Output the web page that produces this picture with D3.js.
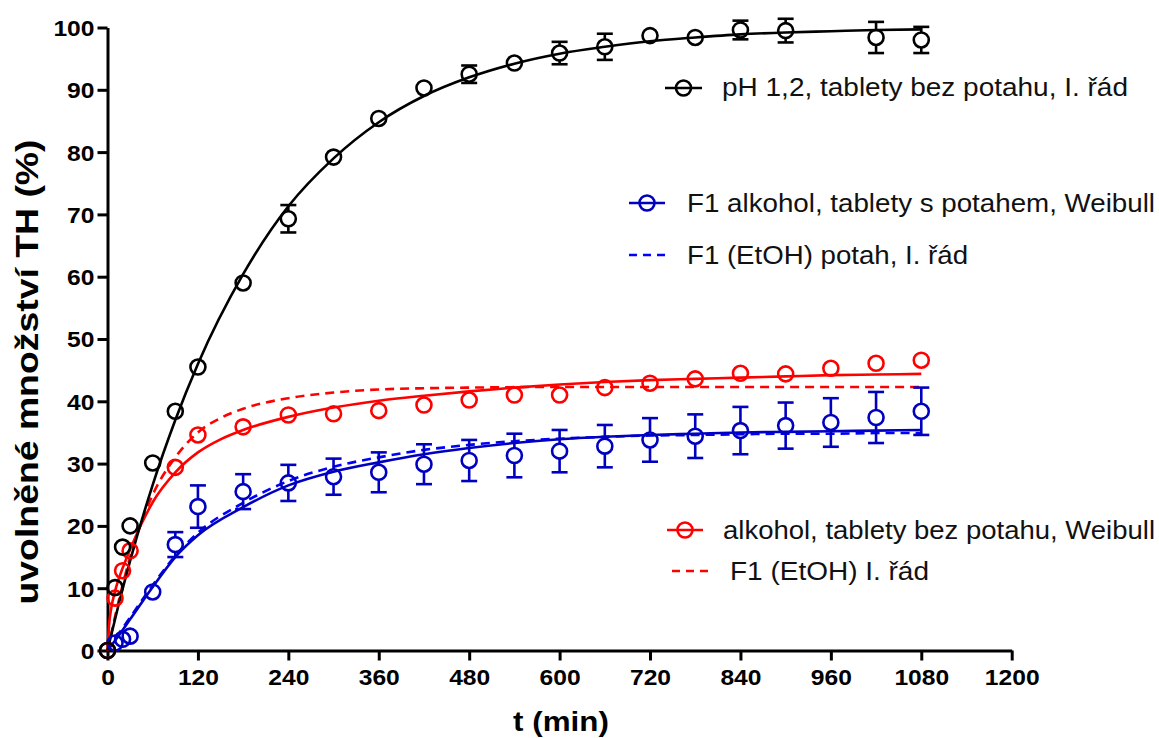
<!DOCTYPE html>
<html>
<head>
<meta charset="utf-8">
<script src="https://cdn.jsdelivr.net/npm/d3@7/dist/d3.min.js"></script>
<style>
  html, body { margin: 0; padding: 0; background: #fff; }
  svg { display: block; }
  text { font-family: "Liberation Sans", Arial, Helvetica, sans-serif; }
</style>
</head>
<body>
<svg id="chart" width="1159" height="738"></svg>
<script>
// ---------- data ----------
const xTicks = [0, 120, 240, 360, 480, 600, 720, 840, 960, 1080, 1200];
const yTicks = [0, 10, 20, 30, 40, 50, 60, 70, 80, 90, 100];

// black: pH 1,2, tablety bez potahu
const blackT   = [0, 10, 20, 30, 60, 90, 120, 180, 240, 300, 360, 420, 480, 540, 600, 660, 720, 780, 840, 900, 1020, 1080];
const blackY   = [0, 10.1, 16.6, 20.0, 30.1, 38.4, 45.5, 59.0, 69.3, 79.2, 85.4, 90.3, 92.5, 94.3, 95.9, 96.9, 98.7, 98.4, 99.6, 99.5, 98.4, 98.0];
const blackErr = [0, 0.3, 0.3, 0.3, 0.3, 0.4, 0.4, 0.5, 2.2, 0.5, 0.5, 0.6, 1.4, 0.8, 1.8, 2.1, 0.5, 0.5, 1.5, 1.9, 2.5, 2.1];
const blackFitT = [0, 15, 30, 60, 90, 120, 180, 240, 300, 360, 420, 480, 540, 600, 660, 720, 780, 840, 900, 960, 1020, 1080];
const blackFitY = [0, 7.5, 14.4, 26.6, 37.0, 46.0, 60.4, 71.3, 79.0, 84.8, 89.0, 92.0, 94.2, 95.8, 96.9, 97.8, 98.4, 98.9, 99.2, 99.4, 99.6, 99.7];

// red: alkohol, tablety bez potahu
const redT   = [0, 10, 20, 30, 90, 120, 180, 240, 300, 360, 420, 480, 540, 600, 660, 720, 780, 840, 900, 960, 1020, 1080];
const redY   = [0, 8.4, 12.8, 16.0, 29.4, 34.6, 35.9, 37.8, 38.0, 38.5, 39.4, 40.2, 41.0, 41.0, 42.2, 42.9, 43.6, 44.5, 44.4, 45.3, 46.1, 46.6];
const redErr = [0, 0.4, 0.5, 0.5, 0.6, 0.6, 0.6, 0.6, 0.6, 0.6, 0.6, 0.7, 0.7, 0.7, 0.7, 0.7, 0.7, 0.7, 0.7, 0.7, 0.7, 0.7];
const redWeibullT = [0, 2, 5, 10, 20, 30, 45, 60, 90, 120, 150, 180, 240, 300, 360, 420, 480, 540, 600, 660, 720, 780, 840, 900, 960, 1020, 1080];
const redWeibullY = [0, 4.0, 6.8, 9.5, 13.2, 16.2, 20.3, 23.8, 28.6, 31.8, 33.9, 35.4, 37.5, 39.0, 40.1, 40.9, 41.6, 42.2, 42.7, 43.1, 43.4, 43.6, 43.8, 44.0, 44.2, 44.3, 44.4];
const redOrderT = [0, 15, 30, 60, 90, 120, 150, 180, 240, 300, 360, 420, 480, 600, 720, 840, 960, 1080];
const redOrderY = [0, 8.0, 15.0, 25.0, 31.0, 35.0, 37.3, 38.8, 40.5, 41.4, 41.9, 42.1, 42.2, 42.3, 42.3, 42.3, 42.3, 42.3];

// blue: F1 alkohol, tablety s potahem
const blueT   = [0, 10, 20, 30, 60, 90, 120, 180, 240, 300, 360, 420, 480, 540, 600, 660, 720, 780, 840, 900, 960, 1020, 1080];
const blueY   = [0, 1.2, 1.8, 2.3, 9.4, 17.0, 23.1, 25.5, 26.9, 27.9, 28.6, 29.9, 30.5, 31.3, 32.0, 32.8, 33.8, 34.4, 35.3, 36.1, 36.6, 37.4, 38.4];
const blueErr = [0, 0.3, 0.3, 0.4, 0.6, 2.0, 3.4, 2.8, 2.9, 2.9, 3.2, 3.2, 3.3, 3.5, 3.4, 3.4, 3.5, 3.5, 3.8, 3.7, 3.9, 4.1, 3.8];
const blueWeibullT = [0, 15, 30, 60, 90, 120, 180, 240, 300, 360, 420, 480, 540, 600, 660, 720, 780, 840, 900, 960, 1020, 1080];
const blueWeibullY = [0, 2.4, 5.0, 10.2, 15.0, 18.5, 23.0, 26.5, 28.7, 30.2, 31.5, 32.5, 33.3, 33.9, 34.3, 34.6, 34.8, 35.0, 35.1, 35.2, 35.3, 35.4];
const blueOrderT = [0, 15, 30, 60, 90, 120, 180, 240, 300, 360, 420, 480, 540, 600, 660, 720, 780, 840, 900, 960, 1020, 1080];
const blueOrderY = [0, 2.7, 5.3, 10.5, 15.2, 18.9, 23.7, 27.2, 29.5, 31.0, 32.2, 33.0, 33.6, 34.0, 34.3, 34.5, 34.6, 34.7, 34.8, 34.8, 34.9, 34.9];

const legendLabels = [
  "pH 1,2, tablety bez potahu, I. řád",
  "F1 alkohol, tablety s potahem, Weibull",
  "F1 (EtOH) potah, I. řád",
  "alkohol, tablety bez potahu, Weibull",
  "F1 (EtOH) I. řád"
];
const xTitle = "t (min)";
const yTitle = "uvolněné množství TH (%)";

// ---------- drawing ----------
const BLACK = "#000000", RED = "#ff0000", BLUE = "#0000c0", BLUE2 = "#0000ff";
const STRETCH = 1.12;
const svg = d3.select("#chart");

const x = d3.scaleLinear().domain([0, 1200]).range([107.5, 1011.7]);
const y = d3.scaleLinear().domain([0, 100]).range([650.5, 27.5]);

// axes
const xAxis = d3.axisBottom(x).tickValues(xTicks).tickFormat(d3.format("d")).tickSize(10).tickSizeOuter(0).tickPadding(8);
const yAxis = d3.axisLeft(y).tickValues(yTicks).tickFormat(d3.format("d")).tickSize(10).tickSizeOuter(0).tickPadding(4);

const gx = svg.append("g").attr("transform", `translate(0,${y(0)})`).call(xAxis);
const gy = svg.append("g").attr("transform", `translate(${x(0)},0)`).call(yAxis);
[gx, gy].forEach(g => {
  g.select(".domain").attr("stroke", "#000").attr("stroke-width", 3);
  g.selectAll(".tick line").attr("stroke", "#000").attr("stroke-width", 3);
  g.selectAll(".tick text")
    .attr("fill", "#000")
    .style("font-family", '"Liberation Sans", Arial, sans-serif')
    .style("font-weight", "bold")
    .style("font-size", "22px");
});
gx.selectAll(".tick text").attr("transform", `scale(${STRETCH},1)`).attr("y", 19).attr("dy", "0.71em");
gy.selectAll(".tick text").attr("transform", `scale(${STRETCH},1)`).attr("x", -13 / STRETCH).attr("dy", "0.36em");

// axis titles
svg.append("text")
  .attr("transform", `translate(561,731) scale(${STRETCH},1)`)
  .attr("text-anchor", "middle")
  .style("font-weight", "bold").style("font-size", "28px")
  .text(xTitle);

svg.append("text")
  .attr("transform", `translate(38,372) rotate(-90)`)
  .attr("text-anchor", "middle")
  .attr("textLength", 465).attr("lengthAdjust", "spacingAndGlyphs")
  .style("font-weight", "bold").style("font-size", "31px")
  .text(yTitle);

const lineGen = d3.line().x(d => x(d[0])).y(d => y(d[1])).curve(d3.curveMonotoneX);
function curve(ts, vs, color, dashed) {
  svg.append("path")
    .datum(d3.zip(ts, vs))
    .attr("d", lineGen)
    .attr("fill", "none")
    .attr("stroke", color)
    .attr("stroke-width", 2.6)
    .attr("stroke-dasharray", dashed ? "9,6" : null);
}
function markers(ts, vs, es, color) {
  const data = d3.zip(ts, vs, es);
  const g = svg.append("g").attr("stroke", color).attr("stroke-width", 2.6).attr("fill", "none");
  const R = 7.5, CAP = 8;
  data.forEach(([t, v, e]) => {
    const px = x(t), top = y(v + e), bot = y(v - e), cy = y(v);
    if (top < cy - R) {
      g.append("line").attr("x1", px).attr("x2", px).attr("y1", top).attr("y2", cy - R);
      g.append("line").attr("x1", px - CAP).attr("x2", px + CAP).attr("y1", top).attr("y2", top);
    }
    if (bot > cy + R && v - e > 0) {
      g.append("line").attr("x1", px).attr("x2", px).attr("y1", cy + R).attr("y2", bot);
      g.append("line").attr("x1", px - CAP).attr("x2", px + CAP).attr("y1", bot).attr("y2", bot);
    }
    g.append("circle").attr("cx", px).attr("cy", cy).attr("r", R);
  });
}

curve(blueOrderT, blueOrderY, BLUE2, true);
curve(blueWeibullT, blueWeibullY, BLUE, false);
curve(redOrderT, redOrderY, RED, true);
curve(redWeibullT, redWeibullY, RED, false);
curve(blackFitT, blackFitY, BLACK, false);

markers(blueT, blueY, blueErr, BLUE);
markers(redT, redY, redErr, RED);
markers(blackT, blackY, blackErr, BLACK);

// legend
const legend = [
  { x1: 665, x2: 702, y: 88,  tx: 722, ty: 96,  color: BLACK, circle: true,  dash: false, w: 406, label: legendLabels[0] },
  { x1: 629, x2: 665, y: 203, tx: 687, ty: 212, color: BLUE,  circle: true,  dash: false, w: 468, label: legendLabels[1] },
  { x1: 629, x2: 665, y: 255, tx: 687, ty: 264, color: BLUE2, circle: false, dash: true,  w: 281, label: legendLabels[2] },
  { x1: 667, x2: 703, y: 530, tx: 723, ty: 539, color: RED,   circle: true,  dash: false, w: 432, label: legendLabels[3] },
  { x1: 672, x2: 708, y: 571, tx: 730, ty: 580, color: RED,   circle: false, dash: true,  w: 199, label: legendLabels[4] }
];
const lg = svg.append("g");
legend.forEach(d => {
  lg.append("line")
    .attr("x1", d.x1).attr("x2", d.x2).attr("y1", d.y).attr("y2", d.y)
    .attr("stroke", d.color).attr("stroke-width", 2.6)
    .attr("stroke-dasharray", d.dash ? "8,6" : null);
  if (d.circle) {
    lg.append("circle").attr("cx", (d.x1 + d.x2) / 2).attr("cy", d.y).attr("r", 7.5)
      .attr("fill", "none").attr("stroke", d.color).attr("stroke-width", 2.6);
  }
  lg.append("text")
    .attr("x", d.tx).attr("y", d.ty)
    .attr("textLength", d.w).attr("lengthAdjust", "spacingAndGlyphs")
    .attr("fill", "#111")
    .style("font-size", "25px")
    .text(d.label);
});
</script>
</body>
</html>
